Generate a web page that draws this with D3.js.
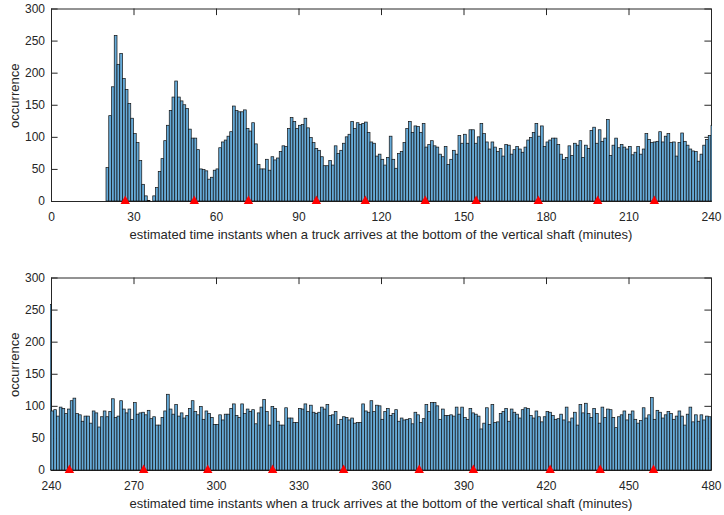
<!DOCTYPE html>
<html>
<head>
<meta charset="utf-8">
<script src="https://cdn.jsdelivr.net/npm/d3@7"></script>
<style>
  body { margin: 0; background: #fff; }
  svg { display: block; font-family: "Liberation Sans", Arial, Helvetica, sans-serif; }
</style>
</head>
<body>
<svg id="chart" width="724" height="515"></svg>
<script>
// Histogram counts, one bin per minute. Each panel's array runs one bin past
// the visible window so the neighbouring bin's edge shows on the axis.
const topStart = 0;       // first bin of topCounts (minutes)
const topCounts = [
  0,0,0,0,0,0,0,0,0,0,
  0,0,0,0,0,0,0,0,0,0,
  52,133,178,258,213,230,191,174,152,129,
  105,91,63,26,8,1,0,8,21,46,
  66,94,118,141,162,187,162,156,150,144,
  112,98,98,80,50,49,47,34,37,48,
  50,83,92,95,101,108,148,141,139,139,
  142,113,109,122,89,57,50,50,65,48,
  69,64,67,77,86,85,113,130,124,113,
  118,119,129,114,99,91,82,79,69,55,
  55,63,56,86,74,79,90,100,104,124,
  113,122,119,121,123,107,92,90,70,73,
  65,56,68,101,65,51,74,77,91,113,
  124,107,117,116,107,121,84,88,94,86,
  84,73,69,85,57,65,79,73,102,90,
  104,90,111,111,90,100,121,105,92,81,
  92,84,77,82,70,88,87,73,80,85,
  81,76,84,95,99,107,121,101,117,85,
  92,95,98,98,88,73,65,68,86,71,
  90,87,94,68,87,82,110,115,90,111,
  93,98,127,71,87,98,83,88,84,81,
  85,72,76,85,73,81,105,96,91,92,
  93,108,92,101,105,91,92,70,91,106,
  93,87,81,78,77,62,73,87,96,102,
  118
];

const bottomStart = 239;  // first bin of bottomCounts (minutes)
const bottomCounts = [
  258,
  92,94,84,98,96,88,95,108,112,88,
  86,76,84,84,73,92,89,67,83,92,
  83,91,111,82,84,108,95,89,95,79,
  105,87,89,90,86,93,80,83,70,70,
  82,92,118,95,87,102,84,89,81,85,
  96,108,91,86,99,79,92,88,82,71,
  71,86,78,87,87,96,103,85,82,103,
  88,95,91,94,72,89,98,110,91,70,
  99,96,76,70,70,97,81,81,74,74,
  96,95,103,91,101,90,88,90,98,95,
  102,85,86,91,71,79,83,82,78,81,
  73,74,74,103,92,90,108,91,101,100,
  79,91,96,85,88,94,76,81,78,79,
  80,72,90,86,74,80,102,91,105,105,
  100,79,95,85,85,86,84,98,87,98,
  82,79,96,89,87,84,64,73,97,71,
  102,74,75,88,91,96,76,95,90,87,
  81,94,97,96,85,81,92,83,75,83,
  91,90,85,79,80,87,78,98,75,81,
  90,70,102,89,104,88,82,96,88,73,
  98,82,95,94,82,66,83,86,92,78,
  87,92,79,73,77,97,81,86,113,79,
  93,90,81,86,91,88,79,84,92,84,
  70,87,98,75,86,76,86,78,84,83
];

// Arrival instants marked on the time axis (minutes)
const topArrivals = [27.0, 52.1, 71.8, 96.5, 114.3, 136.1, 154.6, 177.2, 198.8, 219.4];
const bottomArrivals = [246.7, 273.7, 297.0, 320.6, 346.4, 373.9, 393.6, 421.5, 439.7, 459.1];

const countTicks = [0, 50, 100, 150, 200, 250, 300];
const topTimeTicks = [0, 30, 60, 90, 120, 150, 180, 210, 240];
const bottomTimeTicks = [240, 270, 300, 330, 360, 390, 420, 450, 480];

const xTitle = "estimated time instants when a truck arrives at the bottom of the vertical shaft (minutes)";
const yTitle = "occurrence";

const svg = d3.select("#chart");
const axisColor = "#262626";
const barFill = "#66aad7";
const left = 51, right = 711, tickLen = 6.6;

const panels = [
  { id: "top", start: topStart, counts: topCounts, arrivals: topArrivals,
    ticks: topTimeTicks, domain: [0, 240], y0: 8.5, y1: 201 },
  { id: "bottom", start: bottomStart, counts: bottomCounts, arrivals: bottomArrivals,
    ticks: bottomTimeTicks, domain: [240, 480], y0: 277.5, y1: 470 }
];

panels.forEach(p => {
  const x = d3.scaleLinear().domain(p.domain).range([left, right]);
  const y = d3.scaleLinear().domain([0, 300]).range([p.y1, p.y0]);
  const g = svg.append("g").attr("class", "panel-" + p.id);

  const styleAxis = sel => {
    sel.selectAll("path, line").attr("stroke", axisColor);
    sel.selectAll("text").attr("fill", axisColor).attr("font-size", "12px")
      .attr("font-family", '"Liberation Sans", Arial, sans-serif');
  };

  // Axes with inward ticks on all four sides
  g.append("g").attr("transform", `translate(0,${p.y1})`)
    .call(d3.axisBottom(x).tickValues(p.ticks).tickSize(-tickLen).tickSizeOuter(0).tickPadding(11))
    .call(styleAxis);
  g.append("g").attr("transform", `translate(0,${p.y0})`)
    .call(d3.axisTop(x).tickValues(p.ticks).tickSize(-tickLen).tickSizeOuter(0).tickFormat(""))
    .call(styleAxis);
  g.append("g").attr("transform", `translate(${left},0)`)
    .call(d3.axisLeft(y).tickValues(countTicks).tickSize(-tickLen).tickSizeOuter(0).tickPadding(6))
    .call(styleAxis);
  g.append("g").attr("transform", `translate(${right},0)`)
    .call(d3.axisRight(y).tickValues(countTicks).tickSize(-tickLen).tickSizeOuter(0).tickFormat(""))
    .call(styleAxis);
  g.selectAll(".domain").attr("stroke", axisColor).attr("stroke-width", 1);

  // Bars, clipped to the plot box (a pixel of slack lets edge strokes show)
  const clipId = "clip-" + p.id;
  svg.append("defs").append("clipPath").attr("id", clipId)
    .append("rect").attr("x", left - 1).attr("y", p.y0)
    .attr("width", right - left + 2).attr("height", p.y1 - p.y0 + 1);

  const bins = p.counts.map((c, i) => ({ t: p.start + i, c }));
  g.append("g").attr("clip-path", `url(#${clipId})`)
    .selectAll("rect").data(bins.filter(d => d.c > 0)).join("rect")
    .attr("x", d => x(d.t))
    .attr("width", d => x(d.t + 1) - x(d.t))
    .attr("y", d => y(d.c))
    .attr("height", d => y(0) - y(d.c))
    .attr("fill", barFill)
    .attr("stroke", "#111")
    .attr("stroke-width", 0.7);

  // Arrival markers: red upward triangles sitting on the time axis
  const tri = d3.line();
  g.append("g").selectAll("path").data(p.arrivals).join("path")
    .attr("d", t => {
      const cx = x(t), cy = y(0);
      return tri([[cx - 4.7, cy + 3], [cx + 4.7, cy + 3], [cx, cy - 5.5]]) + "Z";
    })
    .attr("fill", "#ff0000");

  // Axis titles
  g.append("text")
    .attr("x", (left + right) / 2).attr("y", p.y1 + 37.5)
    .attr("text-anchor", "middle").attr("font-size", "13px").attr("fill", axisColor)
    .text(xTitle);
  g.append("text")
    .attr("transform", `translate(18.5,${(p.y0 + p.y1) / 2 - 9}) rotate(-90)`)
    .attr("text-anchor", "middle").attr("font-size", "13px").attr("fill", axisColor)
    .text(yTitle);
});
</script>
</body>
</html>
